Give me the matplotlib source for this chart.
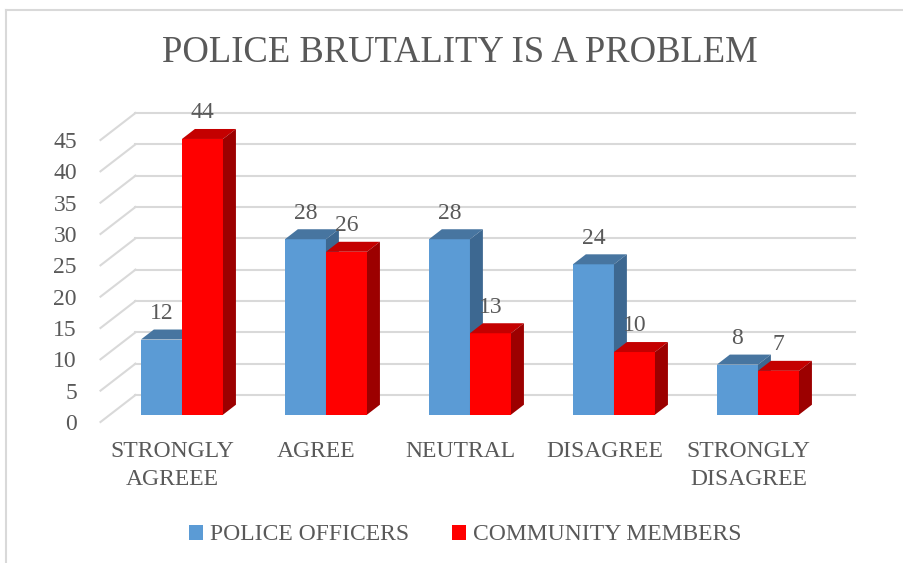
import matplotlib
matplotlib.use("Agg")
import matplotlib.pyplot as plt
from matplotlib.patches import Polygon, Rectangle, Patch
from matplotlib.lines import Line2D

# -----------------------------
# data
# -----------------------------
categories = ["STRONGLY\nAGREEE", "AGREE", "NEUTRAL", "DISAGREE", "STRONGLY\nDISAGREE"]
police = [12, 28, 28, 24, 8]
community = [44, 26, 13, 10, 7]
series_names = ["POLICE OFFICERS", "COMMUNITY MEMBERS"]
y_ticks = list(range(0, 50, 5))

# -----------------------------
# style
# -----------------------------
plt.rcParams["font.family"] = ["Liberation Serif", "DejaVu Serif"]
TEXT = "#595959"
GRID = "#D9D9D9"
# (front, top, side) for each series
COLORS = [("#5B9BD5", "#4775A0", "#3D6891"),
          ("#FF0000", "#C40000", "#9C0000")]

# oblique depth of the floor/wall, in data units
DX, DY = 0.243, 4.31
FRONT, DEPTH, WIDTH = 0.27, 0.37, 0.285

fig = plt.figure(figsize=(9.04, 5.63), dpi=100)
ax = fig.add_axes([100.5 / 904, 141 / 563, 720 / 904, 282 / 563])
ax.set_xlim(-0.5, 4.5)
ax.set_ylim(0, 45)
for sp in ax.spines.values():
    sp.set_visible(False)

# back wall gridlines + the slanted side-wall lines
for v in y_ticks:
    ax.plot([-0.5, -0.5 + DX], [v, v + DY], color=GRID, lw=1.5, clip_on=False, zorder=1)
    ax.plot([-0.5 + DX, 4.5 + DX], [v + DY, v + DY], color=GRID, lw=1.5, clip_on=False, zorder=1)


def draw_bar(x0, y0, v, cols):
    front, top, side = cols
    ax.add_patch(Rectangle((x0, y0), WIDTH, v, facecolor=front, edgecolor="none",
                           clip_on=False, zorder=3))
    ax.add_patch(Polygon([(x0, y0 + v), (x0 + WIDTH, y0 + v),
                          (x0 + WIDTH + DEPTH * DX, y0 + v + DEPTH * DY),
                          (x0 + DEPTH * DX, y0 + v + DEPTH * DY)],
                         facecolor=top, edgecolor="none", clip_on=False, zorder=3))
    ax.add_patch(Polygon([(x0 + WIDTH, y0), (x0 + WIDTH + DEPTH * DX, y0 + DEPTH * DY),
                          (x0 + WIDTH + DEPTH * DX, y0 + v + DEPTH * DY),
                          (x0 + WIDTH, y0 + v)],
                         facecolor=side, edgecolor="none", clip_on=False, zorder=3))
    ax.annotate(str(v), (x0 + WIDTH / 2, y0 + v + DEPTH * DY), xytext=(0, 4),
                textcoords="offset points", ha="center", va="bottom",
                fontsize=17, color=TEXT, zorder=5, annotation_clip=False)


y0 = FRONT * DY
for i in range(len(categories)):
    for s, vals in enumerate([police, community]):
        x0 = i + FRONT * DX + (s - 1) * WIDTH
        draw_bar(x0, y0, vals[i], COLORS[s])

ax.set_yticks(y_ticks)
ax.set_xticks(range(len(categories)))
ax.set_xticklabels(categories, linespacing=1.4)
ax.tick_params(axis="y", length=0, pad=17, labelsize=17, labelcolor=TEXT)
ax.tick_params(axis="x", length=0, pad=14, labelsize=17, labelcolor=TEXT)

fig.text(460 / 904, 1 - 53 / 563, "POLICE BRUTALITY IS A PROBLEM", ha="center",
         va="center", fontsize=26.4, color=TEXT)

handles = [Patch(facecolor=COLORS[0][0]), Patch(facecolor=COLORS[1][0])]
fig.legend(handles, series_names, loc="center", bbox_to_anchor=(465 / 904, 1 - 535 / 563),
           ncol=2, frameon=False, fontsize=17, labelcolor=TEXT, handlelength=0.6,
           handleheight=0.6, handletextpad=0.3, columnspacing=1.8)

# chart frame (top and left edges)
fig.add_artist(Line2D([6 / 904, 6 / 904], [0, 1 - 10 / 563], color=GRID, lw=1.5))
fig.add_artist(Line2D([6 / 904, 1], [1 - 10 / 563, 1 - 10 / 563], color=GRID, lw=1.5))

fig.savefig("out.png", dpi=100)
